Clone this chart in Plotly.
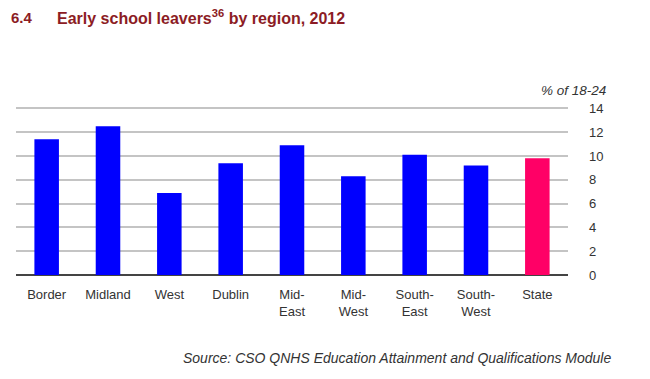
import plotly.graph_objects as go

regions = ["Border", "Midland", "West", "Dublin", "Mid-<br>East", "Mid-<br>West", "South-<br>East", "South-<br>West", "State"]
values = [11.4, 12.5, 6.9, 9.4, 10.9, 8.3, 10.1, 9.2, 9.8]
colors = ["#0000FF"] * 8 + ["#FF0066"]
yticks = [0, 2, 4, 6, 8, 10, 12, 14]

W, H = 650, 379
l, r, t, b = 16, 82, 106, 104
pw, ph = W - l - r, H - t - b

def px(xp):
    return (xp - l) / pw

def py(yp):
    return (H - b - yp) / ph

fig = go.Figure()
fig.add_trace(go.Bar(x=regions, y=values, marker=dict(color=colors, line=dict(width=0)), width=0.4))

fig.update_layout(
    width=W, height=H,
    margin=dict(l=l, r=r, t=t, b=b),
    paper_bgcolor="white", plot_bgcolor="white",
    showlegend=False,
    font=dict(family="Liberation Sans, Arial, sans-serif", size=13, color="#333333"),
    xaxis=dict(showgrid=False, ticks="", tickfont=dict(size=13, color="#333333"),
               showline=False, ticklabelstandoff=10),
    yaxis=dict(side="right", range=[0, 14.2], tickvals=yticks, showgrid=True,
               gridcolor="#c4c4c4", gridwidth=1.5, zeroline=True, zerolinecolor="#444444",
               zerolinewidth=2, ticks="", ticklabelstandoff=20,
               tickfont=dict(size=13, color="#333333")),
    annotations=[
        dict(text="<b>6.4</b>", x=px(9), y=py(17), xanchor="left", yanchor="middle",
             xref="paper", yref="paper", showarrow=False,
             font=dict(size=15, color="#8c1c24")),
        dict(text="<b>Early school leavers<sup>36</sup> by region, 2012</b>", x=px(55), y=py(17),
             xanchor="left", yanchor="middle",
             xref="paper", yref="paper", showarrow=False, font=dict(size=16, color="#8c1c24")),
        dict(text="<i>% of 18-24</i>", x=px(608), y=py(90), xanchor="right", yanchor="middle",
             xref="paper", yref="paper", showarrow=False,
             font=dict(size=13.5, color="#333333")),
        dict(text="<i>Source: CSO QNHS Education Attainment and Qualifications Module</i>",
             x=px(613), y=py(358), xanchor="right", yanchor="middle",
             xref="paper", yref="paper", showarrow=False, font=dict(size=14, color="#333333")),
    ],
)

fig.write_html("out.html")
